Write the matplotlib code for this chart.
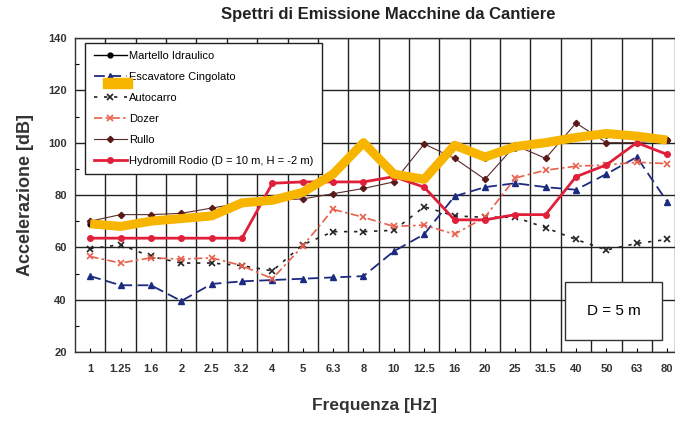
import numpy as np
import matplotlib
matplotlib.use('Agg')
import matplotlib.pyplot as plt
from matplotlib.patches import Rectangle

# data -------------------------------------------------------------------------
freq = ['1', '1.25', '1.6', '2', '2.5', '3.2', '4', '5', '6.3', '8', '10',
        '12.5', '16', '20', '25', '31.5', '40', '50', '63', '80']

martello   = [69, 68, 70, 71, 72, 77, 78, 81, 88, 100, 88, 86, 99, 94, 98,
              100, 102, 103, 102, 101]
escavatore = [49, 45.5, 45.5, 39.5, 46, 47, 47.5, 48, 48.5, 49, 58.5, 65,
              79.5, 83, 84.5, 83, 82, 88, 94.5, 77.5]
autocarro  = [59.5, 61, 56.5, 54, 54, 53, 51, 61, 66, 66, 66.5, 75.5, 72,
              71.5, 71.5, 67.5, 63, 59, 61.5, 63]
dozer      = [56.5, 54, 56, 55.5, 56, 53, 48, 60.5, 74.5, 71.5, 68, 68.5,
              65, 71.5, 86.5, 89.5, 91, 91.5, 92.5, 92]
rullo      = [70, 72.5, 72.5, 73, 75, 77, 78, 78.5, 80.5, 82.5, 85, 99.5,
              94, 86, 99, 94, 107.5, 100, 100, 101]
hydromill  = [63.5, 63.5, 63.5, 63.5, 63.5, 63.5, 84.5, 85, 85, 85, 87, 83,
              70.5, 70.5, 72.5, 72.5, 87, 91.5, 100, 95.5]
evidenza   = [69, 68, 70, 71, 72, 77, 78, 81, 88, 100, 88, 86, 99, 94.5,
              98.5, 100, 102, 103.5, 102.5, 101]

# main -------------------------------------------------------------------------
def main():
    plt.rcParams['font.family'] = ['Liberation Sans', 'DejaVu Sans']
    fig = plt.figure(figsize=(6.75, 4.21), dpi=100)
    ax = fig.add_axes((75 / 675, 1 - 352 / 421, 600 / 675, 314 / 421))
    x = np.arange(len(freq))

    ax.plot(x, martello, '-', color='k', lw=1, marker='o', ms=3.5,
            label='Martello Idraulico', zorder=3)
    ax.plot(x, escavatore, color='#1c2a80', lw=1.3, ls=(0, (6, 3)),
            marker='^', ms=5, label='Escavatore Cingolato', zorder=3)
    ax.plot(x, autocarro, color='#222222', lw=1.2, ls=(0, (2, 4)),
            marker='x', ms=4, mew=1.2, label='Autocarro', zorder=3)
    ax.plot(x, dozer, color='#e8604c', lw=1.2, ls=(0, (5, 2, 1.5, 2)),
            marker='x', ms=4.5, mew=1.2, label='Dozer', zorder=3)
    ax.plot(x, rullo, '-', color='#5a2a2a', lw=0.8, marker='D', ms=3.2,
            mfc='#5a1a1a', mec='#5a1a1a', label='Rullo', zorder=3)
    ax.plot(x, hydromill, '-', color='#e0203a', lw=2, marker='o', ms=4,
            label='Hydromill Rodio (D = 10 m, H = -2 m)', zorder=3)
    ax.plot(x, evidenza, '-', color='#f7b500', lw=6.5, solid_joinstyle='round',
            solid_capstyle='butt', zorder=4)

    ax.set_xlim(-0.5, 19.26)
    ax.set_ylim(20, 140)
    ax.set_xticks(x)
    ax.set_xticklabels(freq)
    ax.set_xticks(x[:-1] + 0.5, minor=True)
    ax.set_yticks(np.arange(20, 141, 20))
    ax.set_yticks(np.arange(30, 140, 20), minor=True)
    ax.tick_params(axis='both', which='both', direction='in', length=3,
                   width=0.8, labelsize=8, labelcolor='#333333')
    ax.tick_params(axis='x', which='minor', length=0)
    ax.tick_params(axis='x', which='major', pad=9)
    ax.tick_params(axis='y', which='major', length=0, pad=6)
    for lbl in ax.get_xticklabels() + ax.get_yticklabels():
        lbl.set_fontweight('bold')
    ax.grid(True, axis='x', which='minor', color='#222222', lw=1)
    ax.grid(True, axis='y', which='major', color='#222222', lw=1)
    for s in ax.spines.values():
        s.set_linewidth(1)
        s.set_color('#333333')

    leg = ax.legend(loc='upper left', bbox_to_anchor=(0.017, 0.984),
                    borderaxespad=0, fontsize=8, frameon=True, fancybox=False,
                    edgecolor='#222222', framealpha=1, labelspacing=0.98,
                    handlelength=3.0, handletextpad=0.2, borderpad=0.75)
    leg.get_frame().set_linewidth(1)
    leg.set_zorder(5)
    fig.patches.append(Rectangle((103 / 675, 1 - 88 / 421), 29 / 675, 10 / 421,
                                 transform=fig.transFigure, color='#f7b500',
                                 zorder=6))

    # D = 5 m box
    ax.add_patch(Rectangle((0.817, 0.038), 0.162, 0.185, transform=ax.transAxes,
                           fc='white', ec='#333333', lw=1, zorder=6))
    ax.text(0.898, 0.131, 'D = 5 m', transform=ax.transAxes, fontsize=11,
            ha='center', va='center', zorder=7)

    fig.text(388 / 675, 1 - 15 / 421, 'Spettri di Emissione Macchine da Cantiere',
             ha='center', va='center', fontsize=12, fontweight='bold',
             color='#222222')
    ax.set_xlabel('Frequenza [Hz]', fontsize=12.5, fontweight='bold',
                  color='#333333', labelpad=17)
    ax.set_ylabel('Accelerazione [dB]', fontsize=13, fontweight='bold',
                  color='#333333', labelpad=10)

    fig.savefig('out.png', dpi=100)

if __name__ == '__main__':
    main()
